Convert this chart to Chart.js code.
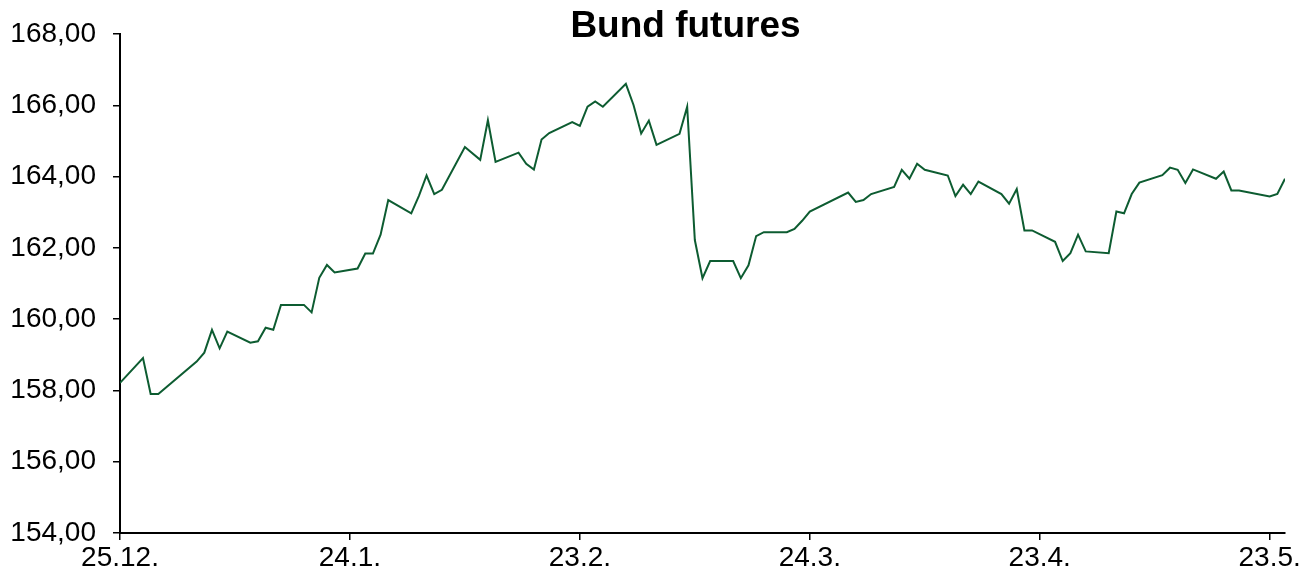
<!DOCTYPE html>
<html lang="de">
<head>
    <meta charset="UTF-8">
    <script src="https://cdn.jsdelivr.net/npm/chart.js"></script>
    <title>Bund futures</title>
    <style>
        body { margin: 0; background: #fff; }
        #wrap { width: 1300px; height: 572px; position: relative; }
    </style>
</head>
<body>
<div id="wrap"><canvas id="bundChart"></canvas></div>

<script>
        // trading days and closing levels
        const dates = [
            '2015-12-25', '2015-12-28', '2015-12-29', '2015-12-30',
            '2016-01-04', '2016-01-05', '2016-01-06', '2016-01-07', '2016-01-08',
            '2016-01-11', '2016-01-12', '2016-01-13', '2016-01-14', '2016-01-15',
            '2016-01-18', '2016-01-19', '2016-01-20', '2016-01-21', '2016-01-22',
            '2016-01-25', '2016-01-26', '2016-01-27', '2016-01-28', '2016-01-29',
            '2016-02-01', '2016-02-02', '2016-02-03', '2016-02-04', '2016-02-05',
            '2016-02-08', '2016-02-10', '2016-02-11', '2016-02-12',
            '2016-02-15', '2016-02-16', '2016-02-17', '2016-02-18', '2016-02-19',
            '2016-02-22', '2016-02-23', '2016-02-24', '2016-02-25', '2016-02-26',
            '2016-02-29', '2016-03-01', '2016-03-02', '2016-03-03', '2016-03-04',
            '2016-03-07', '2016-03-08', '2016-03-09', '2016-03-10', '2016-03-11',
            '2016-03-14', '2016-03-15', '2016-03-16', '2016-03-17', '2016-03-18',
            '2016-03-21', '2016-03-22', '2016-03-23', '2016-03-24',
            '2016-03-29', '2016-03-30', '2016-03-31', '2016-04-01',
            '2016-04-04', '2016-04-05', '2016-04-06', '2016-04-07', '2016-04-08',
            '2016-04-11', '2016-04-12', '2016-04-13', '2016-04-14', '2016-04-15',
            '2016-04-18', '2016-04-19', '2016-04-20', '2016-04-21', '2016-04-22',
            '2016-04-25', '2016-04-26', '2016-04-27', '2016-04-28', '2016-04-29',
            '2016-05-02', '2016-05-03', '2016-05-04', '2016-05-05', '2016-05-06',
            '2016-05-09', '2016-05-10', '2016-05-11', '2016-05-12', '2016-05-13',
            '2016-05-16', '2016-05-17', '2016-05-18', '2016-05-19',
            '2016-05-23', '2016-05-24', '2016-05-25'
        ];
        const prices = [
            158.21, 158.91, 157.90, 157.90,
            158.81, 159.06, 159.70, 159.18, 159.65,
            159.34, 159.38, 159.76, 159.70, 160.40,
            160.40, 160.19, 161.16, 161.52, 161.31,
            161.42, 161.84, 161.84, 162.37, 163.34,
            162.97, 163.46, 164.03, 163.51, 163.63,
            164.83, 164.47, 165.58, 164.41,
            164.67, 164.36, 164.20, 165.04, 165.22,
            165.53, 165.42, 165.96, 166.11, 165.96,
            166.60, 166.01, 165.21, 165.57, 164.89,
            165.20, 165.96, 162.22, 161.15, 161.63,
            161.63, 161.15, 161.51, 162.33, 162.44,
            162.44, 162.53, 162.76, 163.02,
            163.55, 163.29, 163.34, 163.51,
            163.71, 164.19, 163.94, 164.36, 164.19,
            164.03, 163.45, 163.77, 163.51, 163.86,
            163.51, 163.24, 163.65, 162.49, 162.49,
            162.17, 161.63, 161.85, 162.37, 161.90,
            161.85, 163.02, 162.97, 163.51, 163.83,
            164.04, 164.25, 164.19, 163.82, 164.20,
            163.94, 164.14, 163.61, 163.61,
            163.44, 163.51, 163.94
        ];

        // x axis: ticks every 30 days from the first date
        const tickDays = [0, 30, 60, 90, 120, 150];
        const tickLabels = ['25.12.', '24.1.', '23.2.', '24.3.', '23.4.', '23.5.'];
        const lastDay = 152;

        const DAY = 86400000;
        const start = Date.parse(dates[0]);
        const points = dates.map((d, i) => ({ x: (Date.parse(d) - start) / DAY, y: prices[i] }));

        Chart.defaults.font.family = "'Liberation Sans', Arial, sans-serif";
        Chart.defaults.color = '#000';

        // nudge the title a bit to the right, like in the original
        const titleShift = {
            id: 'titleShift',
            afterLayout(chart) {
                if (chart.titleBlock) chart.titleBlock.left += 86;
            }
        };

        const ctx = document.getElementById('bundChart').getContext('2d');
        const bundChart = new Chart(ctx, {
            type: 'line',
            data: {
                datasets: [{
                    label: 'Bund futures',
                    data: points,
                    borderColor: '#0d5c31',
                    borderWidth: 2,
                    pointRadius: 0,
                    tension: 0,
                    fill: false
                }]
            },
            options: {
                responsive: true,
                maintainAspectRatio: false,
                animation: false,
                layout: { padding: { left: 0, right: 15, top: 0, bottom: 0 } },
                plugins: {
                    legend: { display: false },
                    tooltip: { enabled: false },
                    title: {
                        display: true,
                        text: 'Bund futures',
                        font: { size: 37, weight: 'bold', lineHeight: 1 },
                        color: '#000',
                        padding: { top: 8, bottom: -11 }
                    }
                },
                scales: {
                    x: {
                        type: 'linear',
                        min: 0,
                        max: lastDay,
                        afterBuildTicks: function(scale) {
                            scale.ticks = tickDays.map(v => ({ value: v }));
                        },
                        afterFit: function(scale) {
                            scale.height = 39;
                            scale.paddingLeft = 0;
                            scale.paddingRight = 0;
                        },
                        ticks: {
                            autoSkip: false,
                            maxRotation: 0,
                            padding: 1,
                            font: { size: 28 },
                            callback: function(value, index) {
                                return tickLabels[index];
                            }
                        },
                        grid: {
                            drawOnChartArea: false,
                            drawTicks: true,
                            tickLength: 7,
                            color: '#000',
                            lineWidth: 1.5
                        },
                        border: { display: true, color: '#000', width: 2 }
                    },
                    y: {
                        min: 154,
                        max: 168,
                        afterFit: function(scale) {
                            scale.width = 120;
                        },
                        ticks: {
                            stepSize: 2,
                            padding: 17,
                            font: { size: 28 },
                            callback: function(value) {
                                return value.toFixed(2).replace('.', ',');
                            }
                        },
                        grid: {
                            drawOnChartArea: false,
                            drawTicks: true,
                            tickLength: 7,
                            color: '#000',
                            lineWidth: 1.5
                        },
                        border: { display: true, color: '#000', width: 2 }
                    }
                }
            },
            plugins: [titleShift]
        });
    </script>
</body>
</html>
